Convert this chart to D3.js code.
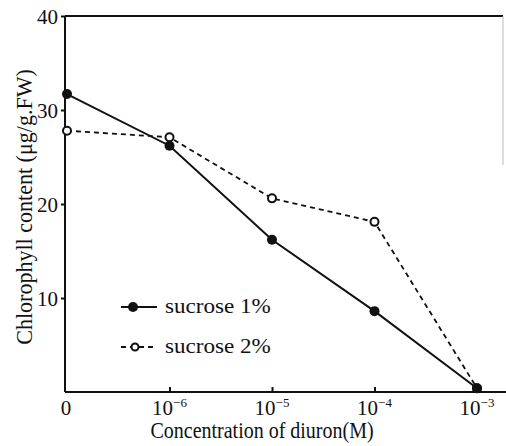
<!DOCTYPE html>
<html>
<head>
<meta charset="utf-8">
<script src="https://cdn.jsdelivr.net/npm/d3@7"></script>
<style>
  body { margin: 0; background: #fff; }
  svg text { font-family: "Liberation Serif", "Times New Roman", "DejaVu Serif", serif !important; fill: #111; }
</style>
</head>
<body>
<svg id="chart"></svg>
<script>
// categories on the x axis (evenly spaced)
const concLabels = ["0", "10^-6", "10^-5", "10^-4", "10^-3"];
const sucrose1 = [31.7, 26.2, 16.2, 8.6, 0.4];
const sucrose2 = [27.8, 27.1, 20.6, 18.1, 0.4];
const yTicks = [10, 20, 30, 40];

const width = 506;
const height = 446;
const plotL = 65, plotR = 477, plotT = 16, plotB = 392;
const serif = "'Liberation Serif', 'Times New Roman', serif";

const svg = d3.select("#chart")
  .attr("width", width)
  .attr("height", height)
  .attr("font-family", serif);

const x = d3.scaleLinear().domain([0, concLabels.length - 1]).range([plotL + 2, plotR]);
const y = d3.scaleLinear().domain([0, 40]).range([plotB, plotT]);

// frame: left, top, bottom (+ faint right edge as in the scan)
svg.append("line").attr("x1", plotL).attr("x2", plotL).attr("y1", plotT).attr("y2", plotB)
  .attr("stroke", "#111").attr("stroke-width", 2);
svg.append("line").attr("x1", plotL).attr("x2", 503).attr("y1", plotT).attr("y2", plotT)
  .attr("stroke", "#111").attr("stroke-width", 2);
svg.append("line").attr("x1", plotL).attr("x2", 506).attr("y1", plotB).attr("y2", plotB)
  .attr("stroke", "#111").attr("stroke-width", 2);
svg.append("line").attr("x1", 503).attr("x2", 503).attr("y1", plotT).attr("y2", 165)
  .attr("stroke", "#bbb").attr("stroke-width", 1);

// y axis
const yAxis = d3.axisLeft(y).tickValues(yTicks).tickSize(4).tickPadding(3);
const gy = svg.append("g")
  .attr("transform", `translate(${plotL},0)`)
  .call(yAxis)
  .attr("font-family", serif);
gy.select(".domain").remove();
gy.selectAll(".tick line").attr("stroke", "#111").attr("stroke-width", 2);
gy.selectAll(".tick text")
  .attr("font-size", 21)
  .attr("fill", "#111")
  .attr("dy", "0.38em");

// x axis: ticks pointing inward, custom labels with superscripts
const xAxis = d3.axisBottom(x).tickValues(d3.range(concLabels.length))
  .tickSize(-5).tickFormat("");
const gx = svg.append("g")
  .attr("transform", `translate(0,${plotB})`)
  .call(xAxis);
gx.select(".domain").remove();
gx.selectAll(".tick line").attr("stroke", "#111").attr("stroke-width", 2);
gx.selectAll(".tick").filter(d => d === 0).select("line").remove();

concLabels.forEach((lab, i) => {
  const t = svg.append("text")
    .attr("x", x(i) + (i === 0 ? -1 : 0))
    .attr("y", 415)
    .attr("text-anchor", "middle")
    .attr("font-size", 21);
  const parts = lab.split("^");
  t.append("tspan").text(parts[0]);
  if (parts[1]) {
    t.append("tspan").attr("dy", -8).attr("font-size", 13)
      .text(parts[1].replace("-", "\u2212"));
  }
});

// axis titles (slightly tall, like the scanned typeface)
svg.append("text")
  .attr("transform", "translate(262,438) scale(1,1.12)")
  .attr("text-anchor", "middle")
  .attr("font-size", 20)
  .text("Concentration of diuron(M)");

svg.append("text")
  .attr("transform", "translate(32,207) rotate(-90) scale(1.05,1.12)")
  .attr("text-anchor", "middle")
  .attr("font-size", 21)
  .text("Chlorophyll content (\u03bcg/g.FW)");

// lines
const line = d3.line().x((d, i) => x(i)).y(d => y(d));

svg.append("path").datum(sucrose2)
  .attr("d", line).attr("fill", "none")
  .attr("stroke", "#111").attr("stroke-width", 1.8)
  .attr("stroke-dasharray", "5,4");

svg.append("path").datum(sucrose1)
  .attr("d", line).attr("fill", "none")
  .attr("stroke", "#111").attr("stroke-width", 2);

svg.selectAll("circle.s2").data(sucrose2).enter().append("circle")
  .attr("class", "s2")
  .attr("cx", (d, i) => x(i)).attr("cy", d => y(d)).attr("r", 4)
  .attr("fill", "#fff").attr("stroke", "#111").attr("stroke-width", 2);

svg.selectAll("circle.s1").data(sucrose1).enter().append("circle")
  .attr("class", "s1")
  .attr("cx", (d, i) => x(i)).attr("cy", d => y(d)).attr("r", 5)
  .attr("fill", "#111");

// legend
const legend = [
  { name: "sucrose 1%", dash: null, filled: true, y: 307 },
  { name: "sucrose 2%", dash: "5,4", filled: false, y: 347 }
];
legend.forEach(l => {
  svg.append("line").attr("x1", 121).attr("x2", 157).attr("y1", l.y).attr("y2", l.y)
    .attr("stroke", "#111").attr("stroke-width", l.filled ? 2 : 1.8)
    .attr("stroke-dasharray", l.dash);
  svg.append("circle").attr("cx", l.filled ? 133 : 135).attr("cy", l.y)
    .attr("r", l.filled ? 5 : 3.5)
    .attr("fill", l.filled ? "#111" : "#fff")
    .attr("stroke", "#111").attr("stroke-width", l.filled ? 0 : 2);
  svg.append("text")
    .attr("transform", `translate(165,${l.y + 6}) scale(1.05,1)`)
    .attr("font-size", 22)
    .text(l.name);
});
</script>
</body>
</html>
